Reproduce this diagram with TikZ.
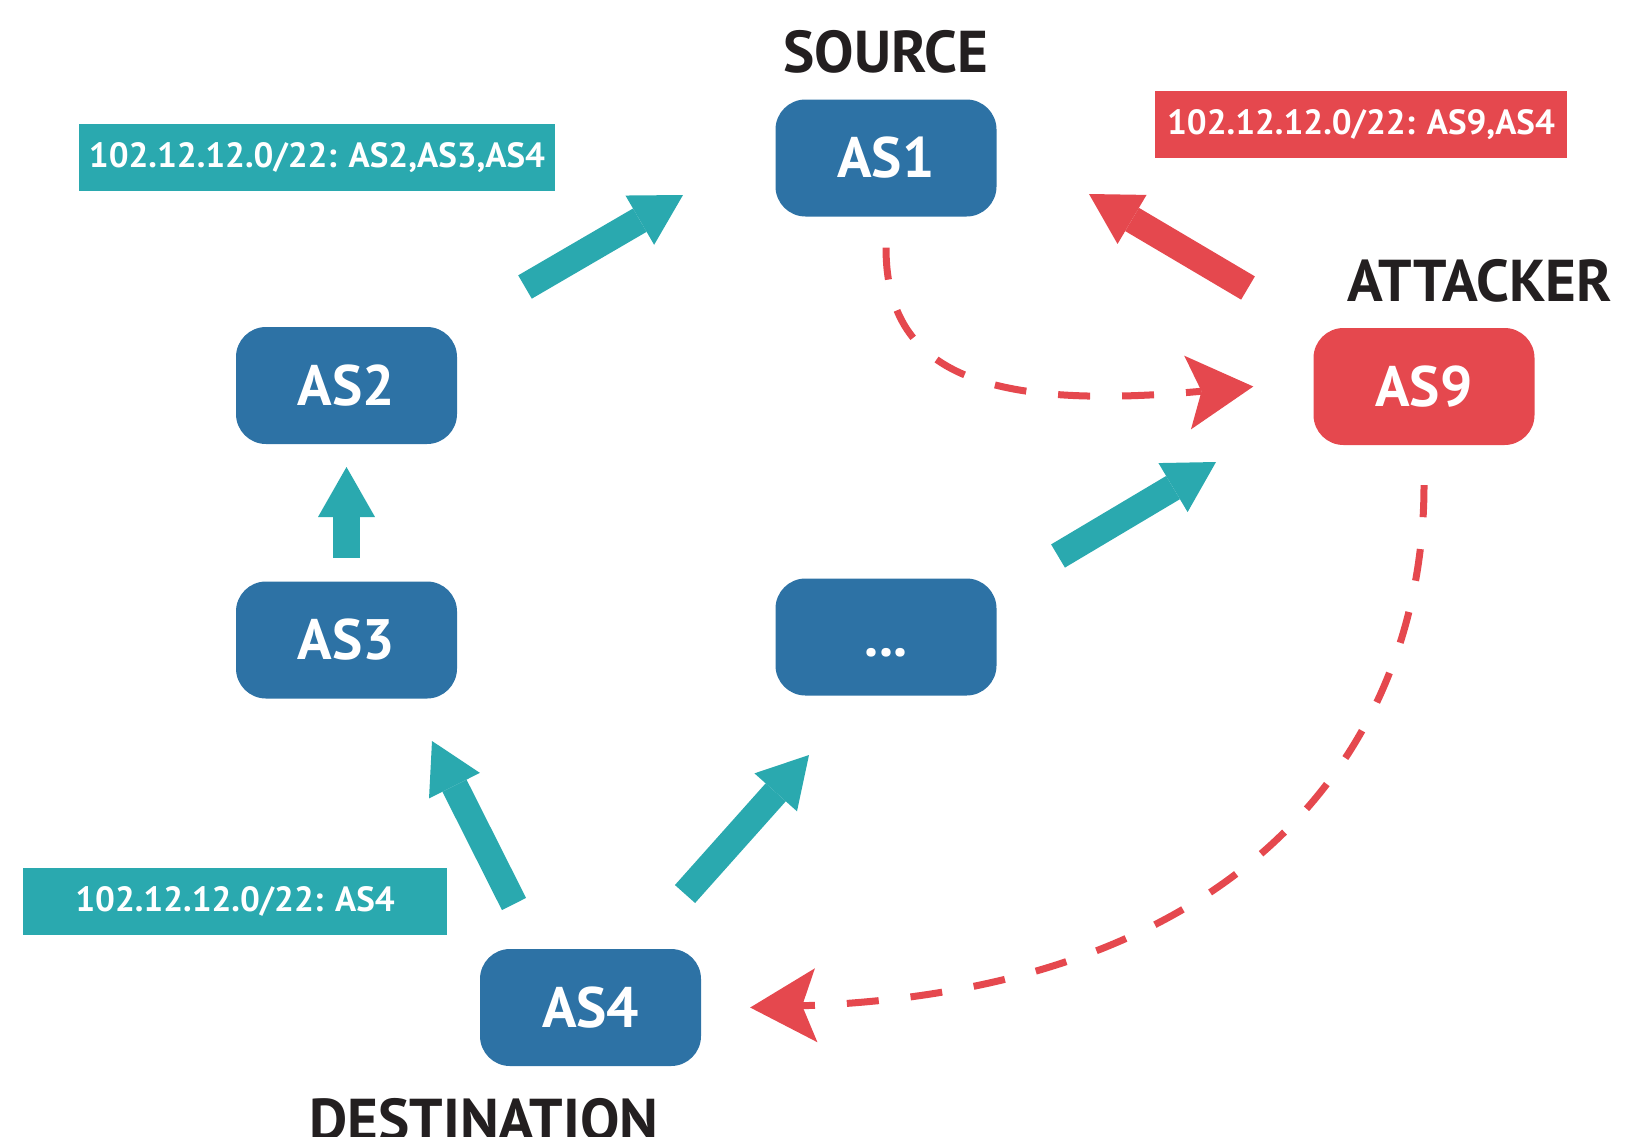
\documentclass[tikz,border=0pt]{standalone}
\usepackage{fontspec}
\setmainfont{PT Sans}
\usepackage{tikz}
\usetikzlibrary{arrows.meta}

\definecolor{asblue}{RGB}{45,114,165}
\definecolor{asteal}{RGB}{42,169,175}
\definecolor{asred}{RGB}{229,72,78}
\definecolor{inkdark}{RGB}{35,31,32}

\tikzset{
  asbox/.style={fill=asblue, rounded corners=30pt, minimum width=221pt, minimum height=117pt,
    inner sep=0pt, text=white, font=\fontsize{57}{60}\selectfont\bfseries},
  asevil/.style={asbox, fill=asred},
  routebox/.style={fill=asteal, minimum height=67pt, inner sep=0pt, text=white,
    font=\fontsize{35}{38}\selectfont\bfseries},
  routeevil/.style={routebox, fill=asred},
  rolelabel/.style={anchor=base, text=inkdark, font=\fontsize{59}{62}\selectfont\bfseries},
  bigarrow/.style={draw=asteal, line width=27pt,
    -{Triangle[width=57pt, length=50pt, line width=0pt]}},
  bigarrowevil/.style={bigarrow, draw=asred},
  hijack/.style={draw=asred, line width=7pt, dash pattern=on 32pt off 32pt,
    -{Stealth[length=66pt, width=74pt, inset=14pt, line width=0pt]}}
}

\begin{document}
\begin{tikzpicture}[x=1pt, y=-1pt]
    \useasboundingbox (0,0) rectangle (1637,1136);

    \node [asbox] (as1) at (886,158) {AS1};
    \node [asbox] (as2) at (346.5,385.5) {AS2};
    \node [asbox] (as3) at (346.5,640) {AS3};
    \node [asbox] (asx) at (886,637) {\vphantom{AS}...};
    \node [asevil] (as9) at (1424,386.5) {AS9};
    \node [asbox] (as4) at (590.5,1007.5) {AS4};

    \node [rolelabel] (src) at (886,72) {SOURCE};
    \node [rolelabel] (atk) at (1480,301) {ATTACKER};
    \node [rolelabel] (dst) at (484,1140) {DESTINATION};

    \node [routebox, minimum width=476pt] (rt-as2) at (317,157.5) {102.12.12.0/22: AS2,AS3,AS4};
    \node [routebox, minimum width=424pt] (rt-as4) at (235,901) {102.12.12.0/22: AS4};
    \node [routeevil, minimum width=412pt] (rt-as9) at (1361,124.5) {102.12.12.0/22: AS9,AS4};

    \draw [bigarrow] ([shift={(178.5,-98.5)}]as2.center) -- ([shift={(-203,37)}]as1.center);
    \draw [bigarrow] ([shift={(0,-82)}]as3.center) -- ([shift={(0,81.5)}]as2.center);
    \draw [bigarrow] ([shift={(-76.5,-103.5)}]as4.center) -- ([shift={(85.5,101)}]as3.center);
    \draw [bigarrow] ([shift={(94.5,-113.5)}]as4.center) -- ([shift={(-77,118)}]asx.center);
    \draw [bigarrow] ([shift={(172,-81)}]asx.center) -- ([shift={(-208,75.5)}]as9.center);
    \draw [bigarrowevil] ([shift={(-176,-98.5)}]as9.center) -- ([shift={(203,36)}]as1.center);

    \draw [hijack] ([shift={(0,31)}]as1.south) .. controls +(0,123) and +(-273,25) .. ([shift={(-60,0)}]as9.west);
    \draw [hijack] ([shift={(0,40)}]as9.south) .. controls +(0,255) and +(500,-17) .. ([shift={(49,0)}]as4.east);
\end{tikzpicture}
\end{document}
